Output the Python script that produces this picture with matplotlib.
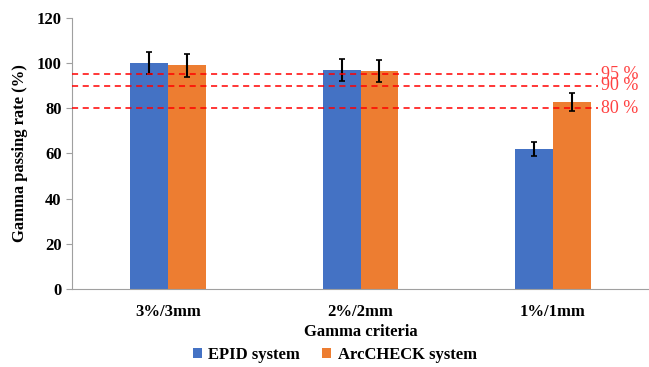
import numpy as np
import matplotlib.pyplot as plt

criteria = ["3%/3mm", "2%/2mm", "1%/1mm"]
epid = [100, 97, 62]
epid_err = [5, 5, 3]
arc = [99, 96.5, 83]
arc_err = [5, 5, 4]
thresholds = [95, 90, 80]
threshold_labels = ["95 %", "90 %", "80 %"]

plt.rcParams['font.family'] = ['Liberation Serif', 'DejaVu Serif']
plt.rcParams['font.weight'] = 'bold'

fig = plt.figure(figsize=(6.49, 3.67), dpi=100)
ax = fig.add_axes([0.111, 0.2125, 0.889, 0.7385])

x = np.arange(len(criteria))
w = 0.197
ekw = dict(ecolor='black', elinewidth=1.5, capsize=2, capthick=1.2)
ax.bar(x - w / 2, epid, w, yerr=epid_err, color='#4472C4', label='EPID system', error_kw=ekw, zorder=2)
ax.bar(x + w / 2, arc, w, yerr=arc_err, color='#ED7D31', label='ArcCHECK system', error_kw=ekw, zorder=2)

for t, lab in zip(thresholds, threshold_labels):
    ax.plot([-0.5, 2.235], [t, t], color='#FF0000', ls=(0, (4, 3)), lw=1.1, zorder=3)
    ax.text(2.25, t, lab, color='#FF4040', fontsize=13, fontweight='normal', va='center', ha='left')

ax.set_xlim(-0.5, 2.5)
ax.set_ylim(0, 120)
ax.set_yticks(range(0, 121, 20))
ax.set_xticks(x)
ax.set_xticklabels(criteria)
ax.tick_params(axis='x', length=0, labelsize=12, pad=11)
ax.tick_params(axis='y', length=4, color='#A0A0A0', labelsize=12)
for s in ['top', 'right']:
    ax.spines[s].set_visible(False)
for s in ['left', 'bottom']:
    ax.spines[s].set_color('#A0A0A0')

ax.set_ylabel('Gamma passing rate (%)', fontsize=12, fontweight='bold', labelpad=6)
ax.set_xlabel('Gamma criteria', fontsize=12, fontweight='bold', labelpad=3)
ax.legend(loc='center', bbox_to_anchor=(0.455, -0.243), ncol=2, frameon=False,
          fontsize=12, handlelength=0.55, handleheight=0.55, columnspacing=1.3, handletextpad=0.4)

fig.savefig('out.png', dpi=100)
